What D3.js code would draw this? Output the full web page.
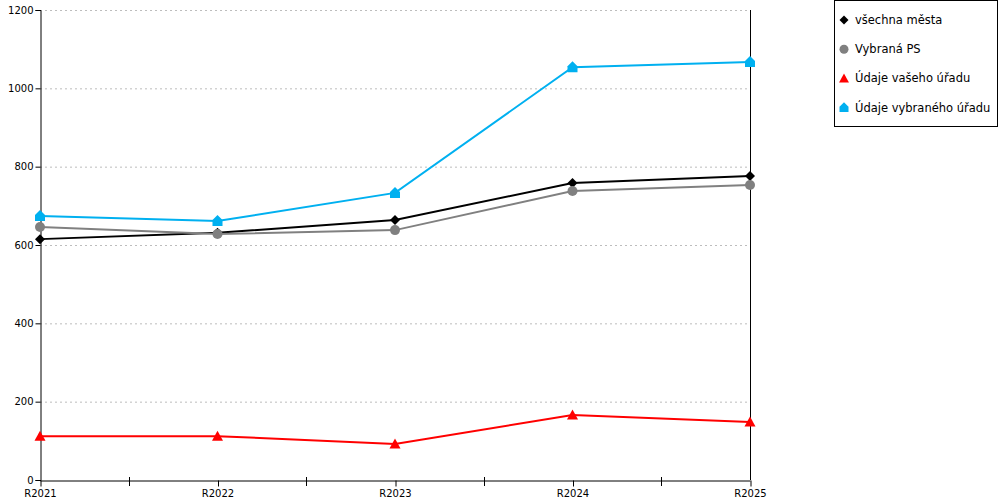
<!DOCTYPE html>
<html>
<head>
<meta charset="utf-8">
<script src="https://cdn.jsdelivr.net/npm/d3@7"></script>
<style>
  body { margin: 0; background: #fff; }
  text { font-family: 'DejaVu Sans', Verdana, sans-serif; }
</style>
</head>
<body>
<div id="chart"></div>
<script>
// Data
const roky = ["R2021", "R2022", "R2023", "R2024", "R2025"];
const vsechnaMesta = [615, 631, 664, 758, 776];
const vybranaPS = [646, 628, 638, 738, 753];
const vasUrad = [112, 112, 92, 166, 148];
const vybranyUrad = [674, 661, 733, 1054, 1067];
const yTicks = [0, 200, 400, 600, 800, 1000, 1200];

const series = [
  { name: "všechna města", values: vsechnaMesta, color: "#000000", shape: "diamond" },
  { name: "Vybraná PS", values: vybranaPS, color: "#808080", shape: "circle" },
  { name: "Údaje vašeho úřadu", values: vasUrad, color: "#ff0000", shape: "triangle" },
  { name: "Údaje vybraného úřadu", values: vybranyUrad, color: "#00b0f0", shape: "house" }
];

const svgWidth = 1000, svgHeight = 500;
const plotLeft = 40, plotRight = 750, plotTop = 10, plotBottom = 480;

const svg = d3.select("#chart").append("svg")
  .attr("width", svgWidth)
  .attr("height", svgHeight);

const x = d3.scalePoint().domain(roky).range([plotLeft, plotRight]);
const y = d3.scaleLinear().domain([0, 1200]).range([plotBottom, plotTop]);

// marker paths around 0,0
function shapePath(shape, s) {
  if (shape === "diamond") return `M0,${-s}L${s},0L0,${s}L${-s},0Z`;
  if (shape === "triangle") return `M0,${-s * 1.1}L${s * 1.1},${s * 0.9}L${-s * 1.1},${s * 0.9}Z`;
  if (shape === "house") return `M${-s},${s}L${s},${s}L${s},${-s * 0.2}L0,${-s * 1.2}L${-s},${-s * 0.2}Z`;
  return null;
}

// mrizka
svg.append("g").selectAll("line")
  .data(yTicks.filter(d => d > 0))
  .enter().append("line")
  .attr("x1", plotLeft).attr("x2", plotRight)
  .attr("y1", d => y(d) + 0.5).attr("y2", d => y(d) + 0.5)
  .attr("stroke", "#bdbdbd")
  .attr("stroke-dasharray", "2,3");

// osa y
const yAxis = svg.append("g")
  .attr("transform", `translate(${plotLeft + 0.5},0)`)
  .call(d3.axisLeft(y).tickValues(yTicks).tickFormat(d3.format("d")).tickSize(5).tickPadding(2));
yAxis.select(".domain").attr("stroke", "#000");
yAxis.selectAll("text").attr("font-size", 10).attr("fill", "#000")
  .style("font-family", "'DejaVu Sans', sans-serif");

// prava svisla cara
svg.append("line")
  .attr("x1", plotRight + 0.5).attr("x2", plotRight + 0.5)
  .attr("y1", plotTop).attr("y2", plotBottom)
  .attr("stroke", "#000");

// osa x
const xAxis = svg.append("g")
  .attr("transform", `translate(0,${plotBottom + 0.5})`)
  .call(d3.axisBottom(x).tickSize(6).tickPadding(3).tickSizeOuter(0));
xAxis.select(".domain").attr("stroke", "#000");
xAxis.selectAll("text").attr("font-size", 10).attr("fill", "#000")
  .style("font-family", "'DejaVu Sans', sans-serif");
xAxis.selectAll(".tick line").attr("transform", "translate(0.5,0)");

// mezilehle znacky
const mids = d3.pairs(roky).map(p => (x(p[0]) + x(p[1])) / 2);
svg.append("g").selectAll("line")
  .data(mids)
  .enter().append("line")
  .attr("x1", d => Math.round(d) + 0.5).attr("x2", d => Math.round(d) + 0.5)
  .attr("y1", plotBottom - 3).attr("y2", plotBottom + 6)
  .attr("stroke", "#000");

// cary
const line = d3.line()
  .x((d, i) => x(roky[i]))
  .y(d => y(d));

series.forEach(s => {
  svg.append("path")
    .datum(s.values)
    .attr("d", line)
    .attr("fill", "none")
    .attr("stroke", s.color)
    .attr("stroke-width", 2);

  const g = svg.append("g");
  s.values.forEach((v, i) => {
    const cx = x(roky[i]), cy = y(v);
    if (s.shape === "circle") {
      g.append("circle").attr("cx", cx).attr("cy", cy).attr("r", 5).attr("fill", s.color);
    } else {
      g.append("path").attr("d", shapePath(s.shape, 5))
        .attr("transform", `translate(${cx},${cy})`)
        .attr("fill", s.color);
    }
  });
});

// legenda
const legend = svg.append("g");
legend.append("rect")
  .attr("x", 834.5).attr("y", 0.5)
  .attr("width", 163).attr("height", 126)
  .attr("fill", "#fff").attr("stroke", "#000");

const item = legend.selectAll(".item")
  .data(series)
  .enter().append("g")
  .attr("transform", (d, i) => `translate(844,${20 + i * 29.2})`);

item.each(function (d) {
  const g = d3.select(this);
  if (d.shape === "circle") {
    g.append("circle").attr("r", 4.5).attr("fill", d.color);
  } else {
    g.append("path").attr("d", shapePath(d.shape, 4.5)).attr("fill", d.color);
  }
});

item.append("text")
  .attr("x", 11)
  .attr("dy", "0.35em")
  .attr("font-size", 11.5)
  .attr("fill", "#000")
  .text(d => d.name);
</script>
</body>
</html>
